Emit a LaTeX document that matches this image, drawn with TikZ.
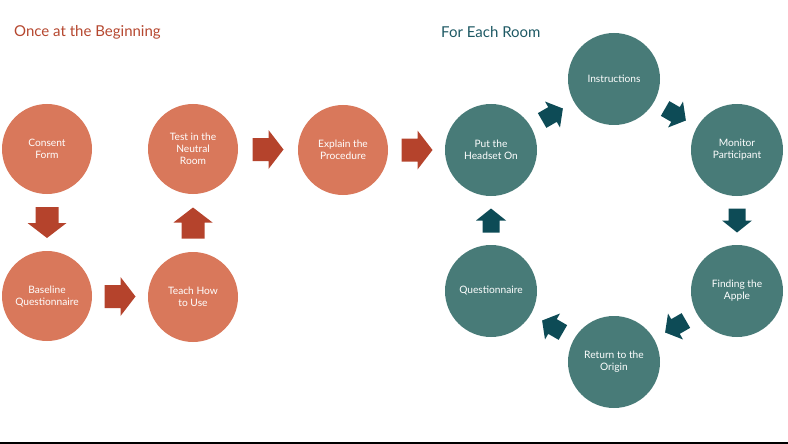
\documentclass[tikz,border=0pt]{standalone}
\usepackage{fontspec}
\setmainfont{Lato}
\usetikzlibrary{calc}
\definecolor{orcirc}{HTML}{D9785B}
\definecolor{orarr}{HTML}{B5432C}
\definecolor{ortitle}{HTML}{B5472F}
\definecolor{tlcirc}{HTML}{487B78}
\definecolor{tlarr}{HTML}{0D4B56}
\definecolor{tltitle}{HTML}{1E5964}
\tikzset{
  ocirc/.style={circle, fill=orcirc, minimum size=90pt, inner sep=0pt, text=white,
    font=\fontsize{10.2}{12}\selectfont, align=center},
  tcirc/.style={circle, fill=tlcirc, minimum size=92pt, inner sep=0pt, text=white,
    font=\fontsize{10.2}{12}\selectfont, align=center},
  oarr/.pic={\fill[orarr] (-15.5,-11.5) -- (0.5,-11.5) -- (0.5,-19.5) -- (15.5,0)
    -- (0.5,19.5) -- (0.5,11.5) -- (-15.5,11.5) -- cycle;},
  tarr/.pic={\fill[tlarr] (-12,-8.5) -- (0,-8.5) -- (0,-15) -- (12,0)
    -- (0,15) -- (0,8.5) -- (-12,8.5) -- cycle;},
  ttl/.style={anchor=west, inner sep=0pt, font=\fontsize{15}{18}\selectfont}
}
\begin{document}
\begin{tikzpicture}[x=1pt,y=1pt]
\useasboundingbox (0,0) rectangle (788,-444);
\node[ttl, text=ortitle] (t1) at (14,-32) {Once at the Beginning};
\node[ttl, text=tltitle] (t2) at (441,-32) {For Each Room};
% orange circles
\node[ocirc] (consent) at (47,-149) {Consent\\Form};
\node[ocirc] (baseline) at (47,-296) {Baseline\\Questionnaire};
\node[ocirc] (teach) at (193,-297) {Teach How\\to Use};
\node[ocirc] (test) at (193,-149) {Test in the\\Neutral\\Room};
\node[ocirc] (explain) at (343,-150) {Explain the\\Procedure};
% teal circles
\node[tcirc] (put) at (491,-150) {Put the\\Headset On};
\node[tcirc] (instr) at (614,-79) {Instructions};
\node[tcirc] (monitor) at (737,-150) {Monitor\\Participant};
\node[tcirc] (finding) at (737,-291) {Finding the\\Apple};
\node[tcirc] (return) at (614,-362) {Return to the\\Origin};
\node[tcirc] (quest) at (491,-291) {Questionnaire};
% connector positions
\coordinate (a1) at ($(consent)!0.5!(baseline)$);
\coordinate (a2) at ($(baseline)!0.5!(teach)$);
\coordinate (a3) at ($(teach)!0.5!(test)$);
\coordinate (a4) at ($(test)!0.5!(explain)$);
\coordinate (a5) at ($(explain)!0.5!(put)$);
\coordinate (b1) at ($(put)!0.5!(instr)$);
\coordinate (b2) at ($(instr)!0.5!(monitor)$);
\coordinate (b3) at ($(monitor)!0.5!(finding)$);
\coordinate (b4) at ($(finding)!0.5!(return)$);
\coordinate (b5) at ($(return)!0.5!(quest)$);
\coordinate (b6) at ($(quest)!0.5!(put)$);
% orange arrows
\pic[rotate=-90] at (a1) {oarr};
\pic at (a2) {oarr};
\pic[rotate=90] at (a3) {oarr};
\pic at (a4) {oarr};
\pic at (a5) {oarr};
% teal arrows
\pic[rotate=30] at (b1) {tarr};
\pic[rotate=-30] at (b2) {tarr};
\pic[rotate=-90] at (b3) {tarr};
\pic[rotate=210] at (b4) {tarr};
\pic[rotate=150] at (b5) {tarr};
\pic[rotate=90] at (b6) {tarr};
% bottom rule
\draw[line width=1.5pt] (0,-443) -- (788,-443);
\end{tikzpicture}
\end{document}
